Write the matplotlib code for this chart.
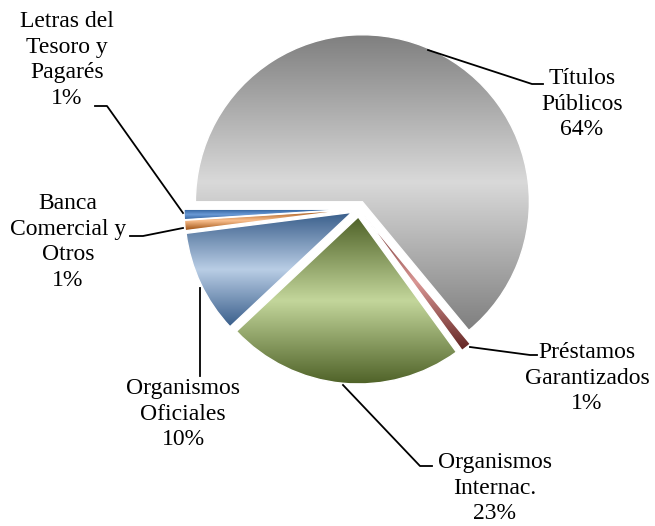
import numpy as np
import matplotlib
matplotlib.use('Agg')
import matplotlib.pyplot as plt
from matplotlib.colors import LinearSegmentedColormap

# data
labels = ['Títulos\nPúblicos', 'Préstamos\nGarantizados', 'Organismos\nInternac.',
          'Organismos\nOficiales', 'Banca\nComercial y\nOtros', 'Letras del\nTesoro y\nPagarés']
shares = [64, 1, 23, 10, 1, 1]

# gradient colours (dark edge, light middle) per slice
dark = ['#7f7f7f', '#632523', '#4f6228', '#385d8a', '#984807', '#2c5d98']
light = ['#d9d9d9', '#d99694', '#c3d69b', '#b9cde5', '#fac090', '#6a9ad6']

W, H = 655, 526
fig = plt.figure(figsize=(W / 100, H / 100), dpi=100)
ax = fig.add_axes([0, 0, 1, 1])

wedges, _ = ax.pie(shares, center=(359, H - 209), radius=167, startangle=180,
                   counterclock=False, explode=[8] * 6,
                   wedgeprops=dict(edgecolor='white', linewidth=1.0))

# vertical dark-light-dark gradient clipped to each wedge
grad = np.linspace(0, 1, 256).reshape(-1, 1)
for w, d, l in zip(wedges, dark, light):
    cmap = LinearSegmentedColormap.from_list('g', [d, l, d])
    ext = w.get_path().get_extents()
    im = ax.imshow(grad, cmap=cmap, origin='lower', aspect='auto',
                   extent=[ext.x0, ext.x1, ext.y0, ext.y1], zorder=1,
                   interpolation='bilinear')
    im.set_clip_path(w)
    w.set_facecolor('none')
    w.set_zorder(2)

ax.set_xlim(0, W)
ax.set_ylim(0, H)
ax.set_aspect('equal')
ax.axis('off')

# label positions (image px) and leader lines
pos = [(582, 104), (587, 378), (495, 488), (183, 414), (68, 242), (67, 60)]
leaders = [
    [(428, 50), (532, 84), (543, 84)],
    [(470, 347), (530, 355), (537, 355)],
    [(343, 385), (420, 466), (432, 466)],
    [(200, 288), (200, 376)],
    [(183, 228), (143, 236), (130, 236)],
    [(95, 106), (107, 106), (183, 213)],
]
for lab, s, (x, y), ln in zip(labels, shares, pos, leaders):
    ax.text(x, H - y, f'{lab}\n{s}%', ha='center', va='center',
            family='Liberation Serif', fontsize=17, linespacing=1.3)
    xs = [p[0] for p in ln]
    ys = [H - p[1] for p in ln]
    ax.plot(xs, ys, color='black', lw=1.3, zorder=3)

fig.savefig('out.png', dpi=100)
